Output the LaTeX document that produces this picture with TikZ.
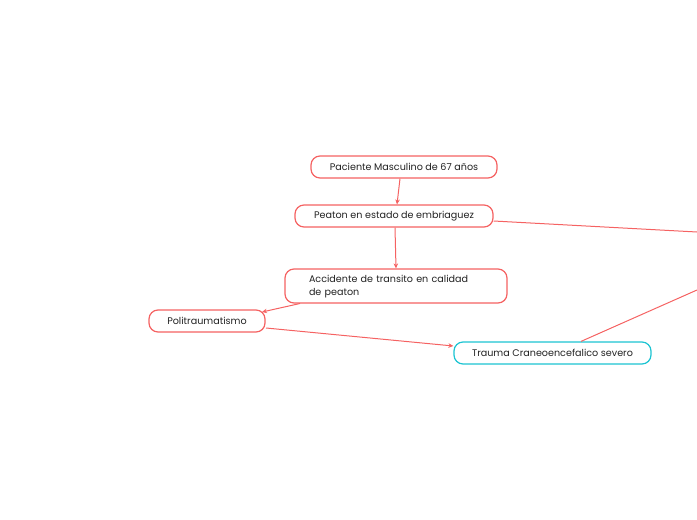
\documentclass[tikz,border=0pt]{standalone}
\usepackage{fontspec}
\setmainfont{Poppins}
\usetikzlibrary{arrows.meta}
\definecolor{redline}{RGB}{245,98,98}
\definecolor{tealline}{RGB}{28,196,210}
\definecolor{txt}{RGB}{35,35,35}
\newcommand{\lowtxt}[2][1pt]{\raisebox{-#1}{#2}}
\tikzset{
  box/.style={draw=redline, line width=1.2pt, rounded corners=9pt, fill=white,
    text=txt, font=\fontsize{9.6}{13}\selectfont, inner sep=0pt, minimum height=22pt},
  tbox/.style={box, draw=tealline},
  conn/.style={draw=redline, line width=1pt},
  arr/.style={conn, -{Stealth[length=5pt,width=4.5pt]}}
}
\begin{document}
\begin{tikzpicture}[x=1pt,y=-1pt]
\useasboundingbox (0,0) rectangle (697,520);
\node[box, minimum width=186pt] (pac) at (404,167) {\lowtxt{Paciente Masculino de 67 años}};
\node[box, minimum width=198pt] (pea) at (394,216) {\lowtxt{Peaton en estado de embriaguez}};
\node[box, minimum width=222pt, minimum height=34pt, text width=174pt, align=left, inner xsep=24pt] (acc) at (396,286) {\lowtxt[4pt]{\begin{tabular}{@{}l@{}}Accidente de transito en calidad\\de peaton\end{tabular}}};
\node[box, minimum width=116pt] (pol) at (207,321) {\lowtxt{Politraumatismo}};
\node[tbox, minimum width=197pt] (tra) at (552.5,353) {\lowtxt{Trauma Craneoencefalico severo}};
\coordinate (r1) at (697,232);
\coordinate (r2) at (697,290);
\draw[arr] (pac.south -| 400,0) -- (pea.north -| 397,0);
\draw[arr] (pea.south -| 395,0) -- (acc.north -| 396,0);
\draw[arr] (300,303.5) -- (262,312);
\draw[arr] (266,328) -- (tra.west |- 0,346);
\draw[conn] (pea.east |- 0,221) -- (r1);
\draw[conn] (tra.north -| 581,0) -- (r2);
\end{tikzpicture}
\end{document}
